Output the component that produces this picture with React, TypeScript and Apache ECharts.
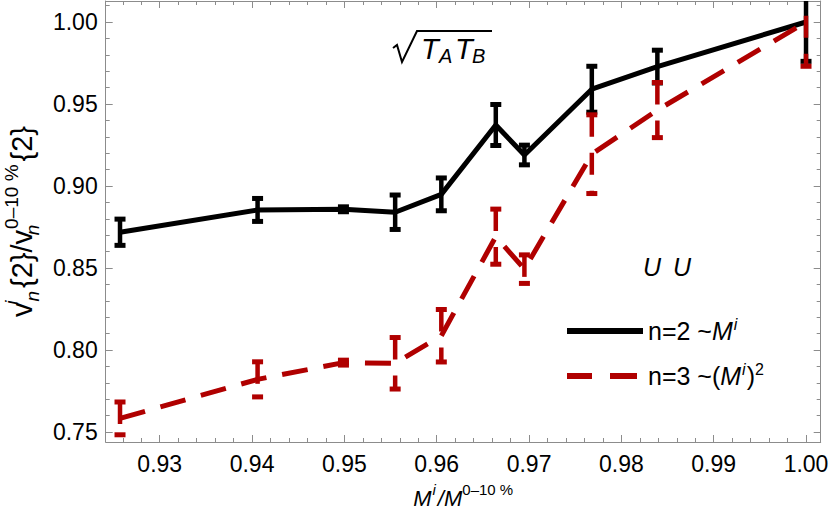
import React, { useEffect, useRef } from 'react';
import * as echarts from 'echarts';

// ---- data ----
const xValues = [0.9257, 0.9406, 0.9499, 0.9555, 0.9605, 0.9664, 0.9695, 0.9768, 0.9839, 1.0];
const n2Values = [0.8718, 0.8854, 0.8858, 0.884, 0.8949, 0.9372, 0.9189, 0.959, 0.9728, 1.0];
const n2Errors = [0.008, 0.007, 0.0015, 0.0105, 0.01, 0.0125, 0.006, 0.014, 0.01, 0.024];
const n3Values = [0.7583, 0.7821, 0.7923, 0.7919, 0.8087, 0.8691, 0.8493, 0.9194, 0.9463, 1.0];
const n3Errors = [0.01, 0.0107, 0.0015, 0.0157, 0.016, 0.0168, 0.0087, 0.024, 0.0168, 0.027];

const xMajorTicks = [0.93, 0.94, 0.95, 0.96, 0.97, 0.98, 0.99, 1.0];
const xMinorTicks = [
  0.926, 0.928, 0.932, 0.934, 0.936, 0.938, 0.942, 0.944, 0.946, 0.948,
  0.952, 0.954, 0.956, 0.958, 0.962, 0.964, 0.966, 0.968, 0.972, 0.974,
  0.976, 0.978, 0.982, 0.984, 0.986, 0.988, 0.992, 0.994, 0.996, 0.998,
];
const yMajorTicks = [0.75, 0.8, 0.85, 0.9, 0.95, 1.0];
const yMinorTicks = [
  0.76, 0.77, 0.78, 0.79, 0.81, 0.82, 0.83, 0.84, 0.86, 0.87, 0.88, 0.89,
  0.91, 0.92, 0.93, 0.94, 0.96, 0.97, 0.98, 0.99, 1.01,
];

const seriesNames = ['n=2', 'n=3'];

// ---- styling ----
const X_MIN = 0.92415;
const X_MAX = 1.00159;
const Y_MIN = 0.7439;
const Y_MAX = 1.0128;
const FONT = "'Liberation Sans', Arial, Helvetica, sans-serif";
const FRAME = '#8c8c8c';
const BLACK = '#000000';
const RED = '#b00000';

function errorBars(name: string, values: number[], errors: number[], color: string, dash: number[] | null) {
  const data = xValues.map((x, i) => [x, values[i] - errors[i], values[i] + errors[i]]);
  return {
    type: 'custom',
    name,
    data,
    clip: true,
    encode: { x: 0, y: [1, 2] },
    renderItem: (_params: any, api: any) => {
      const x = api.value(0);
      const lo = api.coord([x, api.value(1)]);
      const hi = api.coord([x, api.value(2)]);
      const cap = 5.5;
      const base = { stroke: color, lineWidth: 5, fill: null };
      return {
        type: 'group',
        children: [
          {
            type: 'line',
            shape: { x1: hi[0], y1: hi[1], x2: lo[0], y2: lo[1] },
            style: dash ? { ...base, lineWidth: 4.5, lineDash: dash } : { ...base, lineWidth: 4.5 },
          },
          { type: 'line', shape: { x1: hi[0] - cap, y1: hi[1], x2: hi[0] + cap, y2: hi[1] }, style: base },
          { type: 'line', shape: { x1: lo[0] - cap, y1: lo[1], x2: lo[0] + cap, y2: lo[1] }, style: base },
        ],
      };
    },
  };
}

function frameAxis(kind: 'x' | 'y', position: string, ticks: number[], length: number, withLine: boolean, extra: any = {}) {
  return {
    type: 'value',
    min: kind === 'x' ? X_MIN : Y_MIN,
    max: kind === 'x' ? X_MAX : Y_MAX,
    position,
    axisLine: { show: withLine, onZero: false, lineStyle: { color: FRAME, width: 1 } },
    axisTick: { show: true, inside: true, length, customValues: ticks, lineStyle: { color: FRAME, width: 1 } },
    axisLabel: { show: false },
    splitLine: { show: false },
    ...extra,
  };
}

export default function App() {
  const ref = useRef<HTMLDivElement>(null);
  useEffect(() => {
    if (!ref.current) return;
    const chart = echarts.init(ref.current, null, { renderer: 'svg' });
    const subSup = { fontSize: 19, fontFamily: FONT, lineHeight: 19 };
    const option: any = {
      animation: false,
      backgroundColor: '#ffffff',
      textStyle: { fontFamily: FONT },
      grid: { left: 105.7, right: 9.3, top: 1, bottom: 73, containLabel: false, outerBoundsMode: 'none' },
      xAxis: [
        frameAxis('x', 'bottom', xMajorTicks, 7, true, {
          axisLabel: {
            show: true,
            customValues: xMajorTicks,
            formatter: (v: number) => v.toFixed(2),
            color: '#000',
            fontSize: 23,
            fontFamily: FONT,
            margin: 10,
          },
          name: '{it|M}{sup|i}{it|/M}{sup2|0–10 %}',
          nameLocation: 'middle',
          nameGap: 40,
          nameTextStyle: {
            fontSize: 22,
            fontFamily: FONT,
            color: '#000',
            lineHeight: 32,
            rich: {
              it: { fontSize: 22, fontStyle: 'italic', fontFamily: FONT, lineHeight: 32 },
              sup: { fontSize: 15, fontStyle: 'italic', fontFamily: FONT, lineHeight: 15, verticalAlign: 'top', padding: [0, 2, 0, 1] },
              sup2: { fontSize: 15, fontFamily: FONT, lineHeight: 15, verticalAlign: 'top' },
            },
          },
        }),
        frameAxis('x', 'bottom', xMinorTicks, 4, false),
        frameAxis('x', 'top', xMajorTicks, 7, true),
        frameAxis('x', 'top', xMinorTicks, 4, false),
      ],
      yAxis: [
        frameAxis('y', 'left', yMajorTicks, 7, true, {
          axisLabel: {
            show: true,
            customValues: yMajorTicks,
            formatter: (v: number) => v.toFixed(2),
            color: '#000',
            fontSize: 23,
            fontFamily: FONT,
            margin: 8,
          },
          name: 'v{supw|i}{sub|n}{2}/v{subw|n}{sup|0–10 %}{2}',
          nameLocation: 'middle',
          nameRotate: 90,
          nameGap: 57,
          nameTextStyle: {
            fontSize: 29,
            fontFamily: FONT,
            color: '#000',
            lineHeight: 40,
            rich: {
              supw: { ...subSup, fontStyle: 'italic', verticalAlign: 'top', width: 0 },
              sub: { ...subSup, fontStyle: 'italic', verticalAlign: 'bottom', padding: [0, 3, 0, 1] },
              subw: { ...subSup, fontStyle: 'italic', verticalAlign: 'bottom', width: 0 },
              sup: { ...subSup, verticalAlign: 'top', padding: [0, 3, 0, 1] },
            },
          },
        }),
        frameAxis('y', 'left', yMinorTicks, 4, false),
        frameAxis('y', 'right', yMajorTicks, 7, true),
        frameAxis('y', 'right', yMinorTicks, 4, false),
      ],
      legend: {
        data: [
          { name: seriesNames[0], icon: 'path://M0 0H76V6H0Z' },
          { name: seriesNames[1], icon: 'path://M0 0H25V6H0Z M43 0H70V6H43Z M75.99 0H76V0.01H75.99Z' },
        ],
        orient: 'vertical',
        left: 567,
        top: 316,
        padding: 0,
        itemWidth: 76,
        itemHeight: 6,
        itemGap: 15,
        symbolKeepAspect: false,
        selectedMode: false,
        formatter: (name: string) =>
          name === seriesNames[0] ? 'n=2 ~{it|M}{sup|i}' : 'n=3 ~({it|M}{sup|i}){sup2|2}',
        textStyle: {
          fontSize: 25,
          fontFamily: FONT,
          color: '#000',
          lineHeight: 30,
          rich: {
            it: { fontSize: 25, fontStyle: 'italic', fontFamily: FONT, lineHeight: 30 },
            sup: { fontSize: 16, fontStyle: 'italic', fontFamily: FONT, lineHeight: 16, verticalAlign: 'top', padding: [0, 1, 0, 1] },
            sup2: { fontSize: 16, fontFamily: FONT, lineHeight: 16, verticalAlign: 'top' },
          },
        },
      },
      graphic: [
        {
          type: 'polyline',
          shape: { points: [[393, 48], [397, 45], [402, 62], [417, 31], [492, 31]] },
          style: { stroke: '#000', lineWidth: 2, fill: null },
        },
        { type: 'text', x: 421, y: 49, style: { text: 'T', font: `italic 29px ${FONT}`, fill: '#000', align: 'left', verticalAlign: 'middle' } },
        { type: 'text', x: 439, y: 56, style: { text: 'A', font: `italic 20px ${FONT}`, fill: '#000', align: 'left', verticalAlign: 'middle' } },
        { type: 'text', x: 455, y: 49, style: { text: 'T', font: `italic 29px ${FONT}`, fill: '#000', align: 'left', verticalAlign: 'middle' } },
        { type: 'text', x: 472, y: 56, style: { text: 'B', font: `italic 20px ${FONT}`, fill: '#000', align: 'left', verticalAlign: 'middle' } },
        { type: 'text', x: 643, y: 267, style: { text: 'U', font: `italic 25px ${FONT}`, fill: '#000', align: 'left', verticalAlign: 'middle' } },
        { type: 'text', x: 673, y: 267, style: { text: 'U', font: `italic 25px ${FONT}`, fill: '#000', align: 'left', verticalAlign: 'middle' } },
      ],
      series: [
        {
          type: 'line',
          name: seriesNames[0],
          data: xValues.map((x, i) => [x, n2Values[i]]),
          symbol: 'none',
          color: BLACK,
          lineStyle: { color: BLACK, width: 5, join: 'round' },
          z: 2,
        },
        errorBars('n=2 errors', n2Values, n2Errors, BLACK, null),
        {
          type: 'line',
          name: seriesNames[1],
          data: xValues.map((x, i) => [x, n3Values[i]]),
          symbol: 'none',
          color: RED,
          lineStyle: { color: RED, width: 5, type: [26, 16], cap: 'butt' },
          z: 3,
        },
        { ...errorBars('n=3 errors', n3Values, n3Errors, RED, [22, 16]), z: 3 },
      ],
    };
    chart.setOption(option);
    return () => chart.dispose();
  }, []);
  return (
    <div
      ref={ref}
      style={{ position: 'fixed', left: 0, top: 0, width: 830, height: 515, background: '#fff' }}
    />
  );
}
